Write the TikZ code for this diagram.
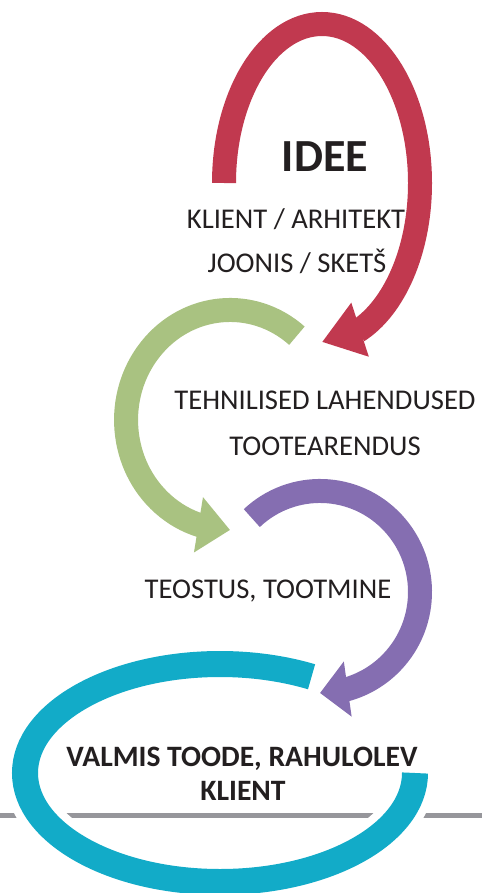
\documentclass[tikz,border=0pt]{standalone}
\usepackage{fontspec}
\setmainfont{Carlito}
\usetikzlibrary{arrows.meta, bending}
\definecolor{ideered}{RGB}{193,57,79}
\definecolor{tehngreen}{RGB}{169,194,129}
\definecolor{teopurple}{RGB}{133,110,177}
\definecolor{valmiscyan}{RGB}{18,171,200}
\definecolor{floorgray}{RGB}{150,150,155}
\definecolor{txtdark}{RGB}{35,31,32}
\begin{document}
\begin{tikzpicture}[
			x=1pt, y=-1pt,
			ring/.style={line width=24pt, line cap=butt},
			head/.style={-{Triangle[width=54pt, length=#1]}},
			head/.default=34pt,
			lbl/.style={font=\fontsize{28.6}{30}\selectfont, text=txtdark, inner sep=0pt},
			boldlbl/.style={lbl, font=\bfseries\fontsize{29.6}{31}\selectfont}
			]
			\useasboundingbox (0,0) rectangle (482,893);
			
			% Floor line
			\coordinate (floorL) at (0,815);
			\coordinate (floorR) at (482,815);
			\draw [floorgray, line width=5pt] (floorL) -- (floorR);
			
			% Rings
			\draw [white, line width=42pt] (415,773) arc[start angle=0, end angle=298, x radius=195, y radius=109];
			\draw [ring, valmiscyan, line width=26pt] (415,773) arc[start angle=0, end angle=298, x radius=195, y radius=109];
			\draw [ring, teopurple, head=28pt] (251.8,518.1) arc[start angle=227, end angle=450, x radius=100, y radius=101];
			\draw [ring, tehngreen, head=32pt] (296.9,335.7) arc[start angle=-50, end angle=-270, x radius=104, y radius=110];
			\draw [ring, ideered, head=40pt] (224,183) arc[start angle=180, end angle=450, x radius=98, y radius=159];
			
			% Nodes
			\node (idee) [boldlbl, font=\bfseries\fontsize{46}{50}\selectfont] at (325,157) {IDEE};
			\node (klient) [lbl] at (296,219) {KLIENT / ARHITEKT};
			\node (joonis) [lbl] at (297,261) {JOONIS / SKETŠ};
			\node (tehn) [lbl] at (325,400) {TEHNILISED LAHENDUSED};
			\node (toote) [lbl] at (325,446) {TOOTEARENDUS};
			\node (teostus) [lbl] at (268,591) {TEOSTUS, TOOTMINE};
			\node (valmis) [boldlbl] at (242,759) {VALMIS TOODE, RAHULOLEV};
			\node (klient2) [boldlbl] at (243,791) {KLIENT};
		\end{tikzpicture}
\end{document}
